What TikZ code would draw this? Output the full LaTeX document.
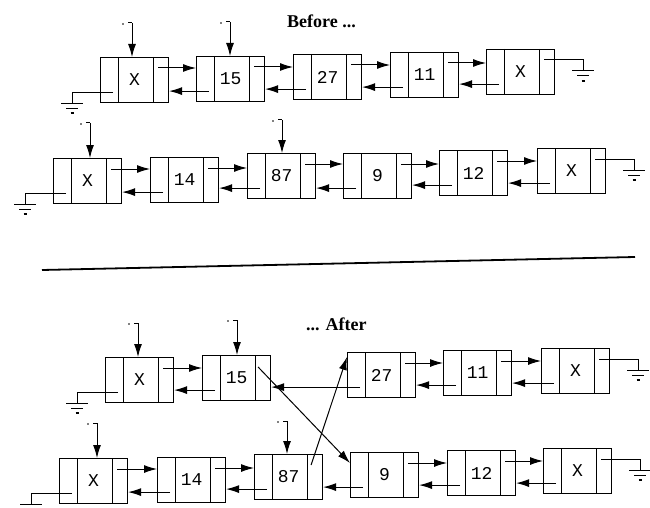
\documentclass[tikz,border=0pt]{standalone}
\usepackage{fontspec}
\setmainfont{Liberation Serif}
\newfontfamily\monofnt{Liberation Mono}
\usetikzlibrary{arrows.meta,calc}
\tikzset{
 lbox/.style={draw, line width=1.1pt, minimum width=68pt, minimum height=45pt, inner sep=0pt, anchor=north west, font=\monofnt\fontsize{18}{18}\selectfont},
 arr/.style={line width=1pt, -{Latex[length=13pt,width=8pt]}},
 wire/.style={line width=1pt},
 titletext/.style={font=\bfseries\fontsize{18}{18}\selectfont, inner sep=0pt, anchor=base west},
}
\newcommand\mklnode[4]{%
 \node[lbox] (#1) at (#2,#3) {#4};
 \draw[wire] ([xshift=18pt]#1.north west) -- ([xshift=18pt]#1.south west);
 \draw[wire] ([xshift=-16pt]#1.north east) -- ([xshift=-16pt]#1.south east);
}
\newcommand\mkfwd[2]{%
 \coordinate (f#1) at ([xshift=-11pt,yshift=-11pt]#1.north east);
 \draw[arr] (f#1) -- (f#1 -| #2.west);
}
\newcommand\mkbwd[2]{%
 \coordinate (b#1) at ([xshift=13pt,yshift=11pt]#1.south west);
 \draw[arr] (b#1) -- (b#1 -| #2.east);
}
\newcommand\mkptr[3]{%
 \coordinate (p#1) at (#2,#3);
 \draw[wire] ([xshift=-4pt]p#1) -- (p#1);
 \draw[arr] (p#1) -- (p#1 |- #1.north);
 \fill ([xshift=-9pt,yshift=-1pt]p#1) circle (0.8pt);
}
\newcommand\mkbars[1]{%
 \draw[wire] ([xshift=-11pt]#1) -- ([xshift=11pt]#1);
 \draw[wire] ([xshift=-6pt,yshift=-5pt]#1) -- ([xshift=6pt,yshift=-5pt]#1);
 \draw[line width=1.6pt] ([xshift=-1.5pt,yshift=-10pt]#1) -- ([xshift=1.5pt,yshift=-10pt]#1);
}
\newcommand\mkgndL[1]{%
 \coordinate (gl#1) at ([xshift=13pt,yshift=11pt]#1.south west);
 \coordinate (gk#1) at ([xshift=-28pt,yshift=11pt]#1.south west);
 \coordinate (gg#1) at ([xshift=-28pt]#1.south west);
 \draw[wire] (gl#1) -- (gk#1) -- (gg#1);
 \mkbars{gg#1}
}
\newcommand\mkgndR[1]{%
 \coordinate (gr#1) at ([xshift=-11pt,yshift=-11pt]#1.north east);
 \coordinate (gs#1) at ([xshift=28pt,yshift=-11pt]#1.north east);
 \coordinate (gt#1) at ([xshift=28pt,yshift=-22pt]#1.north east);
 \draw[wire] (gr#1) -- (gs#1) -- (gt#1);
 \mkbars{gt#1}
}
\begin{document}
\begin{tikzpicture}[x=1pt,y=-1pt]
\useasboundingbox (0,0) rectangle (650,508);
\clip (0,0) rectangle (650,508);
% titles
\node[titletext] (before) at (287,28) {Before ...};
\node[titletext] (after) at (306,330) {... After};
% separator
\draw[line width=1.8pt] (42,270) -- (635,257);
% Before, row 1
\mklnode{A1}{100}{57}{X}
\mklnode{A2}{196}{56}{15}
\mklnode{A3}{293}{54}{27}
\mklnode{A4}{390}{52}{11}
\mklnode{A5}{486}{49}{X}
% Before, row 2
\mklnode{B1}{53}{158}{X}
\mklnode{B2}{150}{157}{14}
\mklnode{B3}{247}{153}{87}
\mklnode{B4}{343}{153}{9}
\mklnode{B5}{439}{150}{12}
\mklnode{B6}{537}{148}{X}
% After, row 1
\mklnode{C1}{105}{357}{X}
\mklnode{C2}{202}{355}{15}
\mklnode{C3}{347}{352}{27}
\mklnode{C4}{443}{350}{11}
\mklnode{C5}{541}{348}{X}
% After, row 2
\mklnode{D1}{59}{458}{X}
\mklnode{D2}{157}{457}{14}
\mklnode{D3}{254}{454}{87}
\mklnode{D4}{350}{452}{9}
\mklnode{D5}{447}{450}{12}
\mklnode{D6}{543}{448}{X}
% links row A
\mkfwd{A1}{A2} \mkfwd{A2}{A3} \mkfwd{A3}{A4} \mkfwd{A4}{A5}
\mkbwd{A2}{A1} \mkbwd{A3}{A2} \mkbwd{A4}{A3} \mkbwd{A5}{A4}
% links row B
\mkfwd{B1}{B2} \mkfwd{B2}{B3} \mkfwd{B3}{B4} \mkfwd{B4}{B5} \mkfwd{B5}{B6}
\mkbwd{B2}{B1} \mkbwd{B3}{B2} \mkbwd{B4}{B3} \mkbwd{B5}{B4} \mkbwd{B6}{B5}
% links row C
\mkfwd{C1}{C2} \mkfwd{C3}{C4} \mkfwd{C4}{C5}
\mkbwd{C2}{C1} \mkbwd{C3}{C2} \mkbwd{C4}{C3} \mkbwd{C5}{C4}
% links row D
\mkfwd{D1}{D2} \mkfwd{D2}{D3} \mkfwd{D4}{D5} \mkfwd{D5}{D6}
\mkbwd{D2}{D1} \mkbwd{D3}{D2} \mkbwd{D4}{D3} \mkbwd{D5}{D4} \mkbwd{D6}{D5}
% crossing links
\draw[arr] ([xshift=-13pt,yshift=-12pt]C2.north east) -- ([yshift=-11pt]D4.north west);
\draw[arr] ([xshift=-12pt,yshift=-11pt]D3.north east) -- ([yshift=-5pt]C3.north west);
% pointers
\mkptr{A1}{132}{23}
\mkptr{A2}{230}{22}
\mkptr{B1}{90}{123}
\mkptr{B3}{282}{120}
\mkptr{C1}{138}{323}
\mkptr{C2}{237}{320}
\mkptr{D1}{97}{423}
\mkptr{D3}{287}{421}
% grounds
\mkgndL{A1} \mkgndL{B1} \mkgndL{C1} \mkgndL{D1}
\mkgndR{A5} \mkgndR{B6} \mkgndR{C5} \mkgndR{D6}
\end{tikzpicture}
\end{document}
